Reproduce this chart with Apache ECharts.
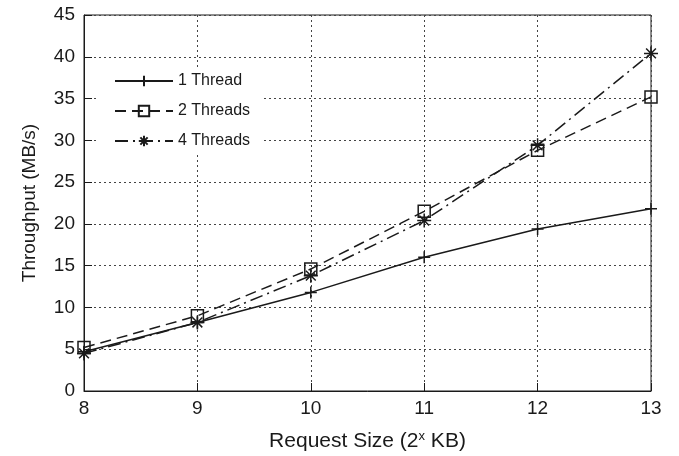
<!DOCTYPE html>
<html><head><meta charset="utf-8">
<script src="https://cdn.jsdelivr.net/npm/echarts@6/dist/echarts.min.js"></script>
<style>html,body{margin:0;padding:0;background:#fff}#c{width:679px;height:456px}</style>
</head><body><div id="c"></div>
<script>
const xValues = [8, 9, 10, 11, 12, 13];
const oneThread = [4.7, 8.2, 11.8, 16.0, 19.4, 21.8];
const twoThreads = [5.2, 9.0, 14.6, 21.5, 28.8, 35.2];
const fourThreads = [4.5, 8.2, 13.8, 20.4, 29.4, 40.4];
const seriesNames = ['1 Thread', '2 Threads', '4 Threads'];

const INK = '#1a1a1a';
const plus = 'path://M5,0 L5,10 M0,5 L10,5';
const square = 'path://M0,0 L10,0 L10,10 L0,10 Z';
const star = 'path://M5,0 L5,10 M0,5 L10,5 M1.5,1.5 L8.5,8.5 M8.5,1.5 L1.5,8.5';
const pair = arr => xValues.map((x, i) => [x, arr[i]]);

function mk(name, data, symbol, size, dash) {
  return {
    name, type: 'line', data: pair(data), symbol, symbolSize: size,
    showAllSymbol: true, clip: false, animation: false,
    lineStyle: { color: INK, width: 1.5, type: dash },
    itemStyle: { color: 'rgba(0,0,0,0)', borderColor: INK, borderWidth: 1.5 },
    emphasis: { disabled: true }
  };
}

const chart = echarts.init(document.getElementById('c'), null, { renderer: 'canvas' });
chart.setOption({
  backgroundColor: '#fff',
  animation: false,
  textStyle: { fontFamily: 'Liberation Sans, Arial, sans-serif', color: INK },
  grid: { left: 84, right: 28, top: 15, bottom: 65, show: true, borderColor: INK, borderWidth: 1,
          containLabel: false, outerBoundsMode: 'none' },
  xAxis: {
    type: 'value', min: 8, max: 13, interval: 1,
    name: 'Request Size (2{sup|x} KB)', nameLocation: 'middle', nameGap: 39,
    nameTextStyle: { fontSize: 21, color: INK, lineHeight: 23,
      rich: { sup: { fontSize: 13, color: INK, verticalAlign: 'top', lineHeight: 23, padding: [0, 0, 8, 0] } } },
    axisLine: { lineStyle: { color: INK } },
    axisTick: { inside: true, length: 8, lineStyle: { color: INK } },
    axisLabel: { fontSize: 19, color: INK, margin: 8 },
    splitLine: { show: true, lineStyle: { color: '#444', type: [2, 3], width: 1 } }
  },
  yAxis: {
    type: 'value', min: 0, max: 45, interval: 5,
    name: 'Throughput (MB/s)', nameLocation: 'middle', nameGap: 45,
    nameTextStyle: { fontSize: 19, color: INK },
    axisLine: { show: true, lineStyle: { color: INK } },
    axisTick: { show: true, inside: true, length: 8, lineStyle: { color: INK } },
    axisLabel: { fontSize: 19, color: INK, margin: 9 },
    splitLine: { show: true, lineStyle: { color: '#444', type: [2, 3], width: 1 } }
  },
  legend: {
    orient: 'vertical', left: 98, top: 67,
    backgroundColor: '#fff', padding: [6, 12, 6, 16],
    itemWidth: 58, itemHeight: 13, itemGap: 14,
    textStyle: { fontSize: 16, color: INK },
    data: seriesNames
  },
  series: [
    mk(seriesNames[0], oneThread, plus, 12, 'solid'),
    mk(seriesNames[1], twoThreads, square, 12, [11, 6]),
    mk(seriesNames[2], fourThreads, star, 14, [13, 5, 2, 5])
  ]
});
</script></body></html>
